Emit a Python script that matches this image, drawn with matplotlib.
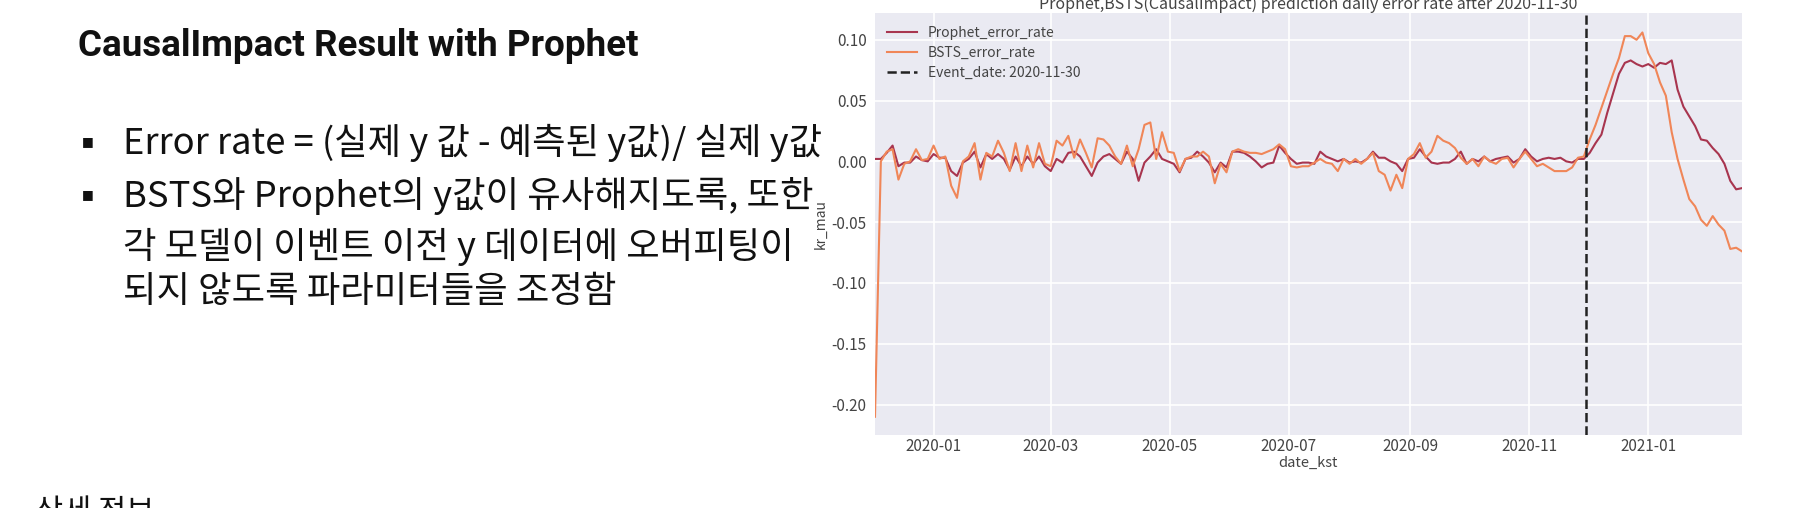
import matplotlib

matplotlib.use("Agg")

import matplotlib.dates as mdates
import matplotlib.pyplot as plt
import pandas as pd

# values, one point every 3 days from 2019-12-02
START_DATE = "2019-12-02"
EVENT_DATE = "2020-11-30"

prophet_error_rate = [
    0.002, 0.002, 0.007, 0.013, -0.004, -0.001, -0.001, 0.004, 0.001, 0.000,
    0.006, 0.003, 0.003, -0.008, -0.012, -0.001, 0.002, 0.008, -0.005, 0.006,
    0.002, 0.006, 0.002, -0.007, 0.004, -0.004, 0.004, -0.002, 0.004, -0.004,
    -0.008, 0.002, -0.001, 0.007, 0.008, 0.004, -0.004, -0.012, -0.001, 0.004,
    0.006, 0.002, -0.002, 0.008, 0.002, -0.016, -0.001, 0.004, 0.010, 0.002,
    0.000, -0.002, -0.009, 0.002, 0.003, 0.008, 0.004, -0.001, -0.009, -0.001,
    -0.005, 0.008, 0.008, 0.007, 0.004, 0.000, -0.005, -0.002, -0.001, 0.013,
    0.007, 0.002, -0.002, -0.001, -0.001, -0.002, 0.008, 0.004, 0.002, 0.000,
    0.002, -0.001, 0.000, -0.001, 0.002, 0.008, 0.003, 0.003, 0.000, -0.002,
    -0.008, 0.002, 0.003, 0.010, 0.004, -0.001, -0.002, -0.001, -0.001, 0.002,
    0.008, -0.002, 0.002, 0.000, 0.004, 0.000, 0.002, 0.003, 0.004, -0.001,
    0.002, 0.010, 0.004, 0.000, 0.002, 0.003, 0.002, 0.003, 0.000, -0.001,
    0.002, 0.002, 0.007, 0.015, 0.022, 0.040, 0.056, 0.072, 0.081, 0.083,
    0.080, 0.078, 0.080, 0.077, 0.081, 0.080, 0.083, 0.059, 0.045, 0.037,
    0.029, 0.018, 0.017, 0.011, 0.006, -0.002, -0.016, -0.023, -0.022,
]

bsts_error_rate = [
    -0.210, 0.000, 0.008, 0.010, -0.015, -0.002, 0.000, 0.010, 0.001, 0.002,
    0.013, 0.002, 0.004, -0.020, -0.030, 0.000, 0.004, 0.015, -0.015, 0.007,
    0.004, 0.017, 0.007, -0.008, 0.015, -0.008, 0.013, -0.005, 0.015, -0.002,
    -0.004, 0.017, 0.013, 0.021, 0.003, 0.018, 0.007, -0.005, 0.019, 0.018,
    0.013, 0.004, -0.002, 0.013, -0.004, 0.010, 0.030, 0.032, 0.002, 0.024,
    0.008, 0.007, -0.008, 0.002, 0.004, 0.004, 0.008, 0.004, -0.018, -0.002,
    -0.009, 0.008, 0.010, 0.008, 0.007, 0.007, 0.006, 0.008, 0.010, 0.014,
    0.010, -0.004, -0.005, -0.004, -0.004, -0.001, 0.002, -0.001, -0.002, -0.008,
    0.002, -0.002, 0.002, -0.002, 0.002, 0.007, -0.008, -0.011, -0.024, -0.011,
    -0.022, 0.002, 0.006, 0.015, 0.003, 0.008, 0.021, 0.017, 0.015, 0.011,
    0.003, -0.002, 0.002, -0.004, 0.004, 0.000, -0.002, 0.002, 0.003, -0.005,
    0.002, 0.008, 0.002, -0.004, -0.002, -0.005, -0.008, -0.008, -0.008, -0.005,
    0.003, 0.004, 0.018, 0.030, 0.044, 0.058, 0.072, 0.085, 0.103, 0.103,
    0.100, 0.106, 0.089, 0.080, 0.065, 0.054, 0.024, 0.002, -0.015, -0.031,
    -0.037, -0.048, -0.053, -0.045, -0.052, -0.057, -0.072, -0.071, -0.074,
]

y_ticks = [-0.20, -0.15, -0.10, -0.05, 0.00, 0.05, 0.10]

slide_title = "CausalImpact Result with Prophet"
bullet_lines = [
    ("Error rate = (실제 y 값 - 예측된 y값)/ 실제 y값", True),
    ("BSTS와 Prophet의 y값이 유사해지도록, 또한", True),
    ("각 모델이 이벤트 이전 y 데이터에 오버피팅이", False),
    ("되지 않도록 파라미터들을 조정함", False),
]
line_y_px = [143, 196, 247, 292]
footer_text = "상세 정보"

W, H = 1815, 508
KR_FONT = ["Noto Sans CJK KR", "DejaVu Sans"]

plt.rcParams["axes.unicode_minus"] = False
plt.rcParams["font.family"] = KR_FONT


def fx(x):
    return x / W


def fy(y):
    return 1 - y / H


fig = plt.figure(figsize=(W / 100, H / 100), dpi=100)
fig.patch.set_facecolor("white")

# left half of the slide
fig.text(fx(78), fy(46), slide_title, family=["Roboto", "DejaVu Sans"],
         fontweight="bold", fontsize=26.5, color="#111111", va="center")
for (text, has_bullet), y in zip(bullet_lines, line_y_px):
    if has_bullet:
        fig.text(fx(82), fy(y - 1), "■", family=["DejaVu Sans"], fontsize=9,
                 color="#111111", va="center")
    fig.text(fx(123), fy(y), text, fontsize=26.2, color="#111111", va="center")
fig.text(fx(35), fy(497), footer_text, fontsize=22, color="#111111", va="top")

# chart
dates = pd.date_range(START_DATE, periods=len(prophet_error_rate), freq="3D")

ax = fig.add_axes([fx(875), fy(435), fx(1742) - fx(875), (435 - 13) / H])
ax.set_facecolor("#EAEAF2")
for side in ax.spines.values():
    side.set_visible(False)
ax.grid(True, color="white", linewidth=1.2)
ax.set_axisbelow(True)

ax.plot(dates, prophet_error_rate, color="#A8354F", linewidth=1.5,
        label="Prophet_error_rate")
ax.plot(dates, bsts_error_rate, color="#F08658", linewidth=1.5,
        label="BSTS_error_rate")
ax.axvline(pd.Timestamp(EVENT_DATE), color="#222222", linestyle="--",
           linewidth=1.8, label=f"Event_date: {EVENT_DATE}")

ax.set_xlim(dates[0], dates[-1])
ax.set_ylim(-0.225, 0.122)
ax.set_yticks(y_ticks)
ax.yaxis.set_major_formatter(plt.FormatStrFormatter("%.2f"))
ax.xaxis.set_major_locator(mdates.MonthLocator(bymonth=[1, 3, 5, 7, 9, 11]))
ax.xaxis.set_major_formatter(mdates.DateFormatter("%Y-%m"))
ax.tick_params(axis="x", length=0, labelsize=11, labelcolor="#444444", pad=2)
ax.tick_params(axis="y", length=0, labelsize=11, labelcolor="#444444", pad=6)

ax.set_xlabel("date_kst", fontsize=10.5, color="#444444", labelpad=1)
ax.set_ylabel("kr_mau", fontsize=10, color="#444444", labelpad=3)
ax.set_title("Prophet,BSTS(CausalImpact) prediction daily error rate after 2020-11-30",
             fontsize=11.5, color="#444444", pad=-1)

leg = ax.legend(loc="upper left", frameon=False, fontsize=10,
                labelspacing=0.45, handlelength=2.1, handletextpad=0.8,
                borderaxespad=0.5, labelcolor="#444444")

fig.savefig("out.png", dpi=100)
